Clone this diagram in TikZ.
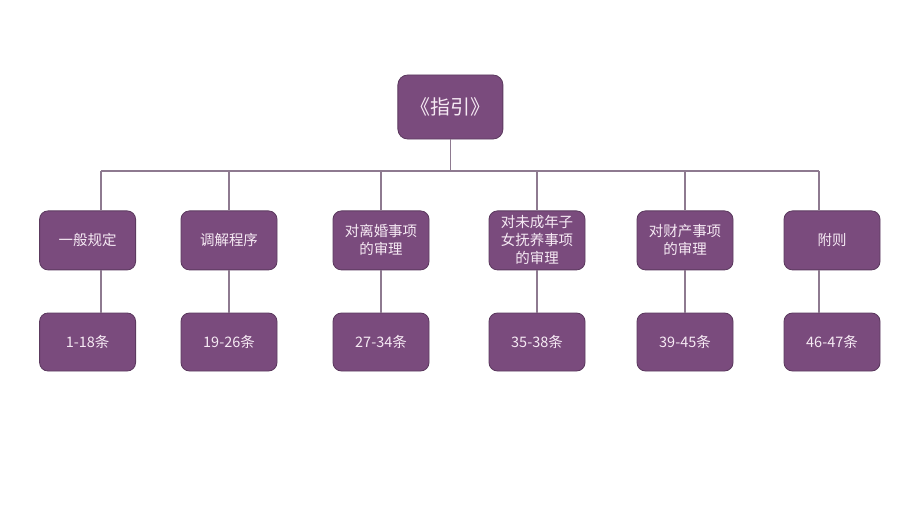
\documentclass[tikz,border=0pt]{standalone}
\usepackage{fontspec}
\setmainfont{Noto Sans CJK SC}
\usetikzlibrary{positioning}
\definecolor{boxfill}{HTML}{7A4B7D}
\definecolor{boxedge}{HTML}{5C3A5F}
\definecolor{linkgray}{HTML}{8E7A90}
\definecolor{boxtext}{HTML}{F6EAF4}
\tikzset{
  secbox/.style={rectangle,rounded corners=6pt,fill=boxfill,draw=boxedge,line width=0.6pt,
    text=boxtext,minimum width=2.4cm,minimum height=1.475cm,align=center,inner sep=1pt,
    font=\fontsize{10.3}{12.8}\selectfont},
  artbox/.style={secbox,minimum height=1.45cm},
  topbox/.style={secbox,rounded corners=7pt,minimum width=2.625cm,minimum height=1.6cm,
    font=\fontsize{14.2}{16}\selectfont},
  link/.style={draw=linkgray,line width=0.8pt}
}

\begin{document}
\begin{tikzpicture}
  \useasboundingbox (0,0) rectangle (22.5,-12.65);
  \node[topbox] (guide) at (11.26,-2.675) {《指引》};
  % chapters
  \node[secbox] (sec1) at (2.19,-6.01) {一般规定};
  \node[secbox] (sec2) at (5.725,-6.01) {调解程序};
  \node[secbox] (sec3) at (9.525,-6.01) {对离婚事项\\的审理};
  \node[secbox] (sec4) at (13.425,-6.01) {对未成年子\\女抚养事项\\的审理};
  \node[secbox] (sec5) at (17.125,-6.01) {对财产事项\\的审理};
  \node[secbox] (sec6) at (20.8,-6.01) {附则};
  % articles
  \node[artbox] (art1) at (2.19,-8.55) {1-18条};
  \node[artbox] (art2) at (5.725,-8.55) {19-26条};
  \node[artbox] (art3) at (9.525,-8.55) {27-34条};
  \node[artbox] (art4) at (13.425,-8.55) {35-38条};
  \node[artbox] (art5) at (17.125,-8.55) {39-45条};
  \node[artbox] (art6) at (20.8,-8.55) {46-47条};
  % tree lines
  \coordinate (busL) at (2.525,-4.275);
  \coordinate (busR) at (20.475,-4.275);
  \draw[link] (guide.south) -- (guide.south |- busL);
  \draw[link] (busL) -- (busR);
  \draw[link] (busL) -- (busL |- sec1.north);
  \draw[link] (busL |- sec1.south) -- (busL |- art1.north);
  \draw[link] (busR) -- (busR |- sec6.north);
  \draw[link] (busR |- sec6.south) -- (busR |- art6.north);
  \draw[link] (sec2.north |- busL) -- (sec2.north);
  \draw[link] (sec3.north |- busL) -- (sec3.north);
  \draw[link] (sec4.north |- busL) -- (sec4.north);
  \draw[link] (sec5.north |- busL) -- (sec5.north);
  \draw[link] (sec2) -- (art2);
  \draw[link] (sec3) -- (art3);
  \draw[link] (sec4) -- (art4);
  \draw[link] (sec5) -- (art5);
\end{tikzpicture}
\end{document}
